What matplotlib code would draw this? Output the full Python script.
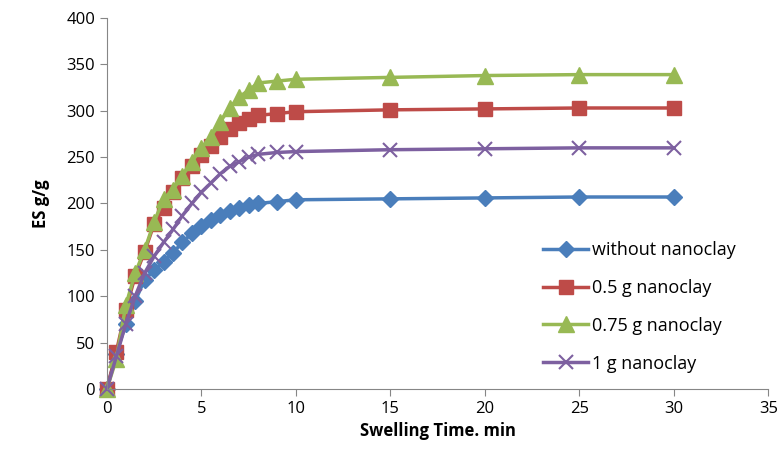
import matplotlib.pyplot as plt
import numpy as np

plt.rcParams['font.family'] = ['Open Sans', 'DejaVu Sans']

time = [0, 0.5, 1, 1.5, 2, 2.5, 3, 3.5, 4, 4.5, 5, 5.5, 6, 6.5, 7, 7.5, 8, 9, 10, 15, 20, 25, 30]
without = [0, 38, 70, 95, 118, 128, 137, 147, 158, 168, 176, 182, 188, 192, 195, 198, 200, 202, 204, 205, 206, 207, 207]
clay_05 = [0, 40, 85, 122, 148, 178, 195, 212, 228, 240, 252, 262, 272, 280, 287, 291, 295, 297, 299, 301, 302, 303, 303]
clay_075 = [0, 32, 90, 125, 150, 180, 205, 215, 230, 245, 260, 272, 288, 303, 315, 322, 330, 332, 334, 336, 338, 339, 339]
clay_1 = [0, 35, 70, 100, 125, 143, 158, 172, 187, 200, 212, 222, 232, 240, 245, 250, 253, 255, 256, 258, 259, 260, 260]

fig = plt.figure(figsize=(7.8, 4.63), dpi=100)
ax = fig.add_axes([0.137, 0.16, 0.848, 0.801])

ax.plot(time, without, color='#4a7ebb', marker='D', ms=8, lw=2.5, label='without nanoclay', clip_on=False)
ax.plot(time, clay_05, color='#be4b48', marker='s', ms=10, lw=2.5, label='0.5 g nanoclay', clip_on=False)
ax.plot(time, clay_075, color='#98b954', marker='^', ms=11, lw=2.5, label='0.75 g nanoclay', clip_on=False)
ax.plot(time, clay_1, color='#7d60a0', marker='x', ms=10, mew=1.5, lw=2.5, label='1 g nanoclay', clip_on=False)

ax.set_xlim(0, 35)
ax.set_ylim(0, 400)
ax.set_xticks(np.arange(0, 36, 5))
ax.set_yticks(np.arange(0, 401, 50))
for s in ['top', 'right']:
    ax.spines[s].set_visible(False)
for s in ['left', 'bottom']:
    ax.spines[s].set_color('#868686')
ax.tick_params(colors='#868686', labelcolor='black', labelsize=12, direction='out', length=5)

ax.set_xlabel('Swelling Time. min', fontsize=12, fontweight='bold')
ax.set_ylabel('ES g/g', fontsize=12, fontweight='bold', labelpad=12)

ax.legend(loc='lower left', bbox_to_anchor=(0.635, 0.0), frameon=False, fontsize=13,
          handlelength=2.5, labelspacing=1.1, handletextpad=0.2)

fig.savefig('out.png', dpi=100)
